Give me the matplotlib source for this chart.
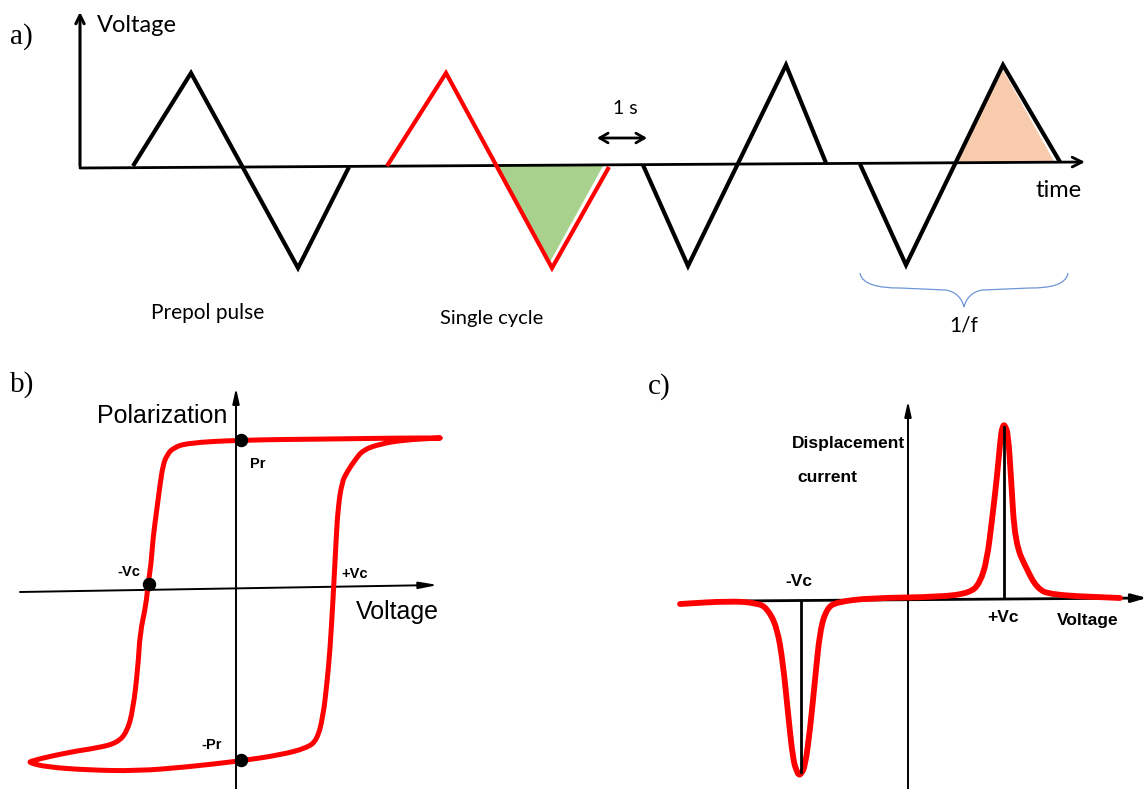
import matplotlib
matplotlib.use("Agg")
import matplotlib.pyplot as plt
from matplotlib.path import Path
from matplotlib.patches import PathPatch

# ---------------- data (figure pixel units) ----------------
# Panel a: triangular voltage pulses (time, voltage) vertices
prepol_t = [133, 191, 298, 349]
prepol_v = [166, 73, 268, 167]
single_t = [387, 446, 552, 609]
single_v = [166, 73, 268, 167]
cycle3_t = [643, 688, 786, 826]
cycle3_v = [165, 266, 65, 163]
cycle4_t = [860, 906, 1003, 1060]
cycle4_v = [164, 265, 65, 162]
green_t = [495, 550, 603]
green_v = [166, 262, 166]
orange_t = [955, 1003, 1055]
orange_v = [163, 70, 163]
time_axis_t = [80, 1085]
time_axis_v = [168, 162]

# Panel b: hysteresis loop (voltage, polarization)
loop_x = [440, 403, 330, 240, 187, 173, 167, 163, 160, 157, 153, 151, 148, 146,
          140, 138, 133, 127, 117, 97, 70, 30, 30, 47, 87, 137, 187, 240, 280, 307,
          317, 323, 327, 330, 333, 336, 338, 342, 347, 355, 363, 380, 403, 440]
loop_y = [438, 438, 439, 440, 443, 448, 455, 465, 485, 508, 538, 565, 584, 605,
          633, 667, 710, 732, 743, 748, 752, 761, 763, 767, 770, 771, 767, 761, 755, 748,
          740, 717, 683, 650, 600, 542, 508, 482, 472, 460, 450, 444, 440, 438]
marker_x = [241, 149, 241]
marker_y = [440, 584, 760]

# Panel c: displacement current (voltage, current)
curr_x = [680, 730, 757, 767, 777, 783, 788, 793, 797, 799, 801, 805, 810, 815,
          820, 827, 837, 870, 940, 970, 980, 987, 992, 997, 1001, 1003, 1004,
          1005, 1008, 1011, 1015, 1027, 1037, 1050, 1120]
curr_y = [604, 601, 603, 608, 627, 663, 713, 760, 772, 775, 774, 767, 730, 680,
          630, 608, 602, 598, 597, 593, 583, 560, 520, 477, 433, 426, 425,
          426, 433, 477, 543, 570, 588, 595, 598]
vc_x = [801, 1004]
vc_top = [601, 427]
vc_bot = [772, 598]

# ---------------- figure ----------------
fig = plt.figure(figsize=(11.48, 7.89), dpi=100)
ax = fig.add_axes([0, 0, 1, 1])
ax.set_xlim(0, 1148)
ax.set_ylim(789, 0)
ax.axis("off")

K = "black"
R = "#ff0000"
sans_a = "Lato"
serif = "Liberation Serif"
arial = "Liberation Sans"


def arrow(x0, y0, x1, y1, style, lw):
    ax.annotate("", xy=(x1, y1), xytext=(x0, y0),
                arrowprops=dict(arrowstyle=style, lw=lw, color=K,
                                shrinkA=0, shrinkB=0))


def smooth_curve(xs, ys, **kw):
    # quadratic Bezier rendering through the midpoints of the read-off points
    pts = list(zip(xs, ys))
    verts = [pts[0]]
    codes = [Path.MOVETO]
    for i in range(1, len(pts) - 1):
        m0 = ((pts[i - 1][0] + pts[i][0]) / 2, (pts[i - 1][1] + pts[i][1]) / 2)
        m1 = ((pts[i][0] + pts[i + 1][0]) / 2, (pts[i][1] + pts[i + 1][1]) / 2)
        verts += [m0, pts[i], m1]
        codes += [Path.LINETO, Path.CURVE3, Path.CURVE3]
    verts.append(pts[-1])
    codes.append(Path.LINETO)
    ax.add_patch(PathPatch(Path(verts, codes), fill=False, **kw))

# ---- panel a ----
ax.text(10, 37, "a)", fontsize=21, family=serif, va="center", ha="left")
arrow(80, 166, 80, 12, "->,head_length=0.6,head_width=0.3", 2.2)
ax.text(97, 25, "Voltage", fontsize=17, family=sans_a, va="center", ha="left")
arrow(time_axis_t[0], time_axis_v[0], time_axis_t[1], time_axis_v[1],
      "->,head_length=0.7,head_width=0.35", 2.0)
ax.text(1059, 190, "time", fontsize=17, family=sans_a, va="center", ha="center")

ax.fill(green_t, green_v, color="#a9d18e", lw=0, zorder=1)
ax.fill(orange_t, orange_v, color="#f8cbad", lw=0, zorder=1)
for t, v, c in [(prepol_t, prepol_v, K), (single_t, single_v, R),
                (cycle3_t, cycle3_v, K), (cycle4_t, cycle4_v, K)]:
    ax.plot(t, v, color=c, lw=3.0, solid_joinstyle="miter", solid_capstyle="butt", zorder=3)

arrow(597, 138, 647, 138, "<->,head_length=0.6,head_width=0.35", 2.0)
ax.text(625, 108, "1 s", fontsize=14, family=sans_a, va="center", ha="center")
ax.text(208, 313, "Prepol pulse", fontsize=15, family=sans_a, va="center", ha="center")
ax.text(492, 318, "Single cycle", fontsize=14.5, family=sans_a, va="center", ha="center")

brace = Path([(860, 273), (862, 285), (880, 288), (900, 288), (945, 290),
              (955, 291), (962, 298), (964, 307), (966, 298), (973, 291), (983, 290),
              (1030, 288), (1050, 288), (1066, 285), (1068, 273)],
             [Path.MOVETO, Path.CURVE4, Path.CURVE4, Path.CURVE4, Path.LINETO,
              Path.CURVE4, Path.CURVE4, Path.CURVE4, Path.CURVE4, Path.CURVE4, Path.CURVE4,
              Path.LINETO, Path.CURVE4, Path.CURVE4, Path.CURVE4])
ax.add_patch(PathPatch(brace, fill=False, edgecolor="#6f95d6", lw=0.9))
ax.text(964, 325, "1/f", fontsize=15, family=sans_a, va="center", ha="center")

# ---- panel b ----
ax.text(10, 385, "b)", fontsize=21, family=serif, va="center", ha="left")
arrow(236, 789, 236, 388, "-|>,head_length=0.9,head_width=0.2", 1.4)
arrow(20, 592, 438, 585, "-|>,head_length=1.1,head_width=0.2", 1.4)
smooth_curve(loop_x, loop_y, edgecolor=R, lw=3.6, joinstyle="round", capstyle="round", zorder=3)
ax.scatter(marker_x, marker_y, s=75, color=K, zorder=4)
ax.text(97, 416, "Polarization", fontsize=18, family=arial, va="center", ha="left")
ax.text(356, 612, "Voltage", fontsize=18, family=arial, va="center", ha="left")
ax.text(250, 464, "Pr", fontsize=10.5, family=arial, weight="bold", va="center", ha="left")
ax.text(140, 572, "-Vc", fontsize=10.5, family=arial, weight="bold", va="center", ha="right")
ax.text(341, 574, "+Vc", fontsize=10.5, family=arial, weight="bold", va="center", ha="left")
ax.text(222, 745, "-Pr", fontsize=10.5, family=arial, weight="bold", va="center", ha="right")

# ---- panel c ----
ax.text(648, 387, "c)", fontsize=21, family=serif, va="center", ha="left")
arrow(908, 789, 908, 401, "-|>,head_length=0.9,head_width=0.2", 1.4)
arrow(732, 601, 1147, 598, "-|>,head_length=0.9,head_width=0.25", 2.0)
smooth_curve(curr_x, curr_y, edgecolor=R, lw=4.2, joinstyle="round", capstyle="round", zorder=3)
for x, y0, y1 in zip(vc_x, vc_top, vc_bot):
    ax.plot([x, x], [y0, y1], color=K, lw=2.0, zorder=4)
ax.text(792, 443, "Displacement", fontsize=12.5, family=arial, weight="bold", va="center", ha="left")
ax.text(797, 477, "current", fontsize=12.5, family=arial, weight="bold", va="center", ha="left")
ax.text(799, 582, "-Vc", fontsize=12.5, family=arial, weight="bold", va="center", ha="center")
ax.text(1003, 618, "+Vc", fontsize=12.5, family=arial, weight="bold", va="center", ha="center")
ax.text(1057, 621, "Voltage", fontsize=12.5, family=arial, weight="bold", va="center", ha="left")

fig.savefig("out.png", dpi=100)
